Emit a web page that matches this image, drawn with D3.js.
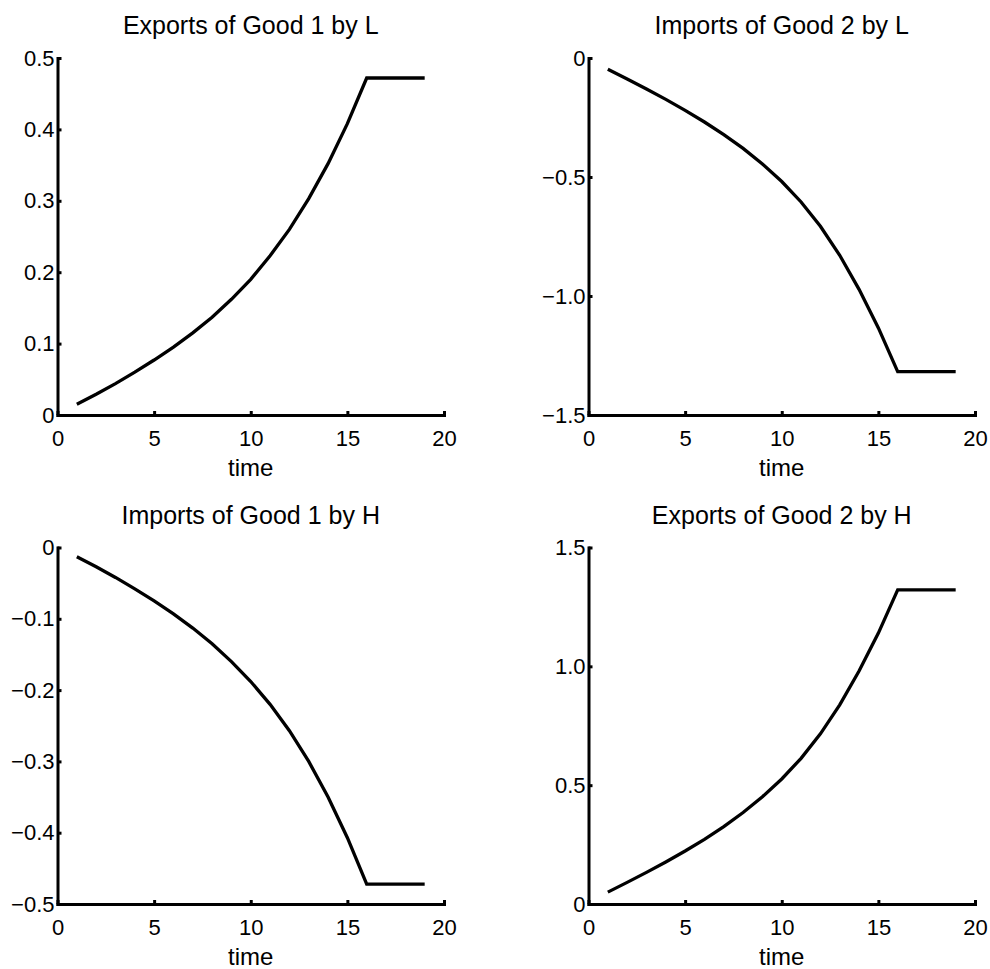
<!DOCTYPE html>
<html>
<head>
<meta charset="utf-8">
<script src="https://cdn.jsdelivr.net/npm/d3@7"></script>
<style>
  html, body { margin: 0; padding: 0; background: #fff; }
  svg { display: block; font-family: "Liberation Sans", Arial, Helvetica, sans-serif; }
  .domain, .tick line { stroke: #000; stroke-width: 3; }
  .tick text { font-size: 22px; fill: #000; }
</style>
</head>
<body>
<svg id="chart" width="990" height="969"></svg>
<script>
// Time periods 1..19
const time = d3.range(1, 20);

// Trade flows over time (the transition ends at period 16, then flat)
const exportsGood1L = [0.015, 0.029, 0.044, 0.060, 0.077, 0.095, 0.115, 0.137, 0.162, 0.190,
                       0.223, 0.260, 0.303, 0.352, 0.408, 0.472, 0.472, 0.472, 0.472];
const importsGood2L = [-0.047, -0.088, -0.130, -0.174, -0.220, -0.269, -0.322, -0.380, -0.445, -0.519,
                       -0.605, -0.707, -0.829, -0.972, -1.134, -1.318, -1.318, -1.318, -1.318];
const importsGood1H = [-0.013, -0.027, -0.042, -0.058, -0.075, -0.093, -0.113, -0.135, -0.160, -0.188,
                       -0.220, -0.257, -0.300, -0.350, -0.407, -0.472, -0.472, -0.472, -0.472];
const exportsGood2H = [0.050, 0.091, 0.133, 0.177, 0.223, 0.272, 0.326, 0.385, 0.451, 0.526,
                       0.613, 0.716, 0.838, 0.980, 1.140, 1.322, 1.322, 1.322, 1.322];

// Axis ticks and their labels
const xTicks = [0, 5, 10, 15, 20];
const xTickLabels = ["0", "5", "10", "15", "20"];
const ticksPos01 = [0, 0.1, 0.2, 0.3, 0.4, 0.5];
const labelsPos01 = ["0", "0.1", "0.2", "0.3", "0.4", "0.5"];
const ticksNeg01 = [-0.5, -0.4, -0.3, -0.2, -0.1, 0];
const labelsNeg01 = ["\u22120.5", "\u22120.4", "\u22120.3", "\u22120.2", "\u22120.1", "0"];
const ticksNeg05 = [-1.5, -1.0, -0.5, 0];
const labelsNeg05 = ["\u22121.5", "\u22121.0", "\u22120.5", "0"];
const ticksPos05 = [0, 0.5, 1.0, 1.5];
const labelsPos05 = ["0", "0.5", "1.0", "1.5"];

const panels = [
  { title: "Exports of Good 1 by L", values: exportsGood1L, yDomain: [0, 0.5],
    yTicks: ticksPos01, yLabels: labelsPos01, left: 57.5, top: 58, bottom: 415 },
  { title: "Imports of Good 2 by L", values: importsGood2L, yDomain: [-1.5, 0],
    yTicks: ticksNeg05, yLabels: labelsNeg05, left: 588.5, top: 58, bottom: 415 },
  { title: "Imports of Good 1 by H", values: importsGood1H, yDomain: [-0.5, 0],
    yTicks: ticksNeg01, yLabels: labelsNeg01, left: 57.5, top: 547.5, bottom: 904 },
  { title: "Exports of Good 2 by H", values: exportsGood2H, yDomain: [0, 1.5],
    yTicks: ticksPos05, yLabels: labelsPos05, left: 588.5, top: 547.5, bottom: 904 }
];
const plotWidth = 386.5;

const svg = d3.select("#chart");

panels.forEach(p => {
  const x = d3.scaleLinear().domain([0, 20]).range([p.left, p.left + plotWidth]);
  const y = d3.scaleLinear().domain(p.yDomain).range([p.bottom, p.top]);
  const g = svg.append("g");

  // series line
  g.append("path")
    .datum(time.map((t, i) => [t, p.values[i]]))
    .attr("fill", "none")
    .attr("stroke", "#000")
    .attr("stroke-width", 3.3)
    .attr("stroke-linejoin", "miter")
    .attr("d", d3.line().x(d => x(d[0])).y(d => y(d[1])));

  // x axis, ticks pointing inward
  g.append("g")
    .attr("transform", `translate(0,${p.bottom})`)
    .call(d3.axisBottom(x).tickValues(xTicks)
      .tickFormat((d, i) => xTickLabels[i])
      .tickSizeInner(-4).tickSizeOuter(0).tickPadding(15));

  // y axis, ticks pointing inward
  g.append("g")
    .attr("transform", `translate(${p.left},0)`)
    .call(d3.axisLeft(y).tickValues(p.yTicks)
      .tickFormat((d, i) => p.yLabels[i])
      .tickSizeInner(-4).tickSizeOuter(0).tickPadding(3));

  g.selectAll(".domain").attr("stroke-linecap", "square");

  // title
  g.append("text")
    .attr("x", p.left + plotWidth / 2)
    .attr("y", p.top - 24)
    .attr("text-anchor", "middle")
    .attr("font-size", 25)
    .text(p.title);

  // x axis label
  g.append("text")
    .attr("x", p.left + plotWidth / 2)
    .attr("y", p.bottom + 61)
    .attr("text-anchor", "middle")
    .attr("font-size", 24)
    .text("time");
});
</script>
</body>
</html>
